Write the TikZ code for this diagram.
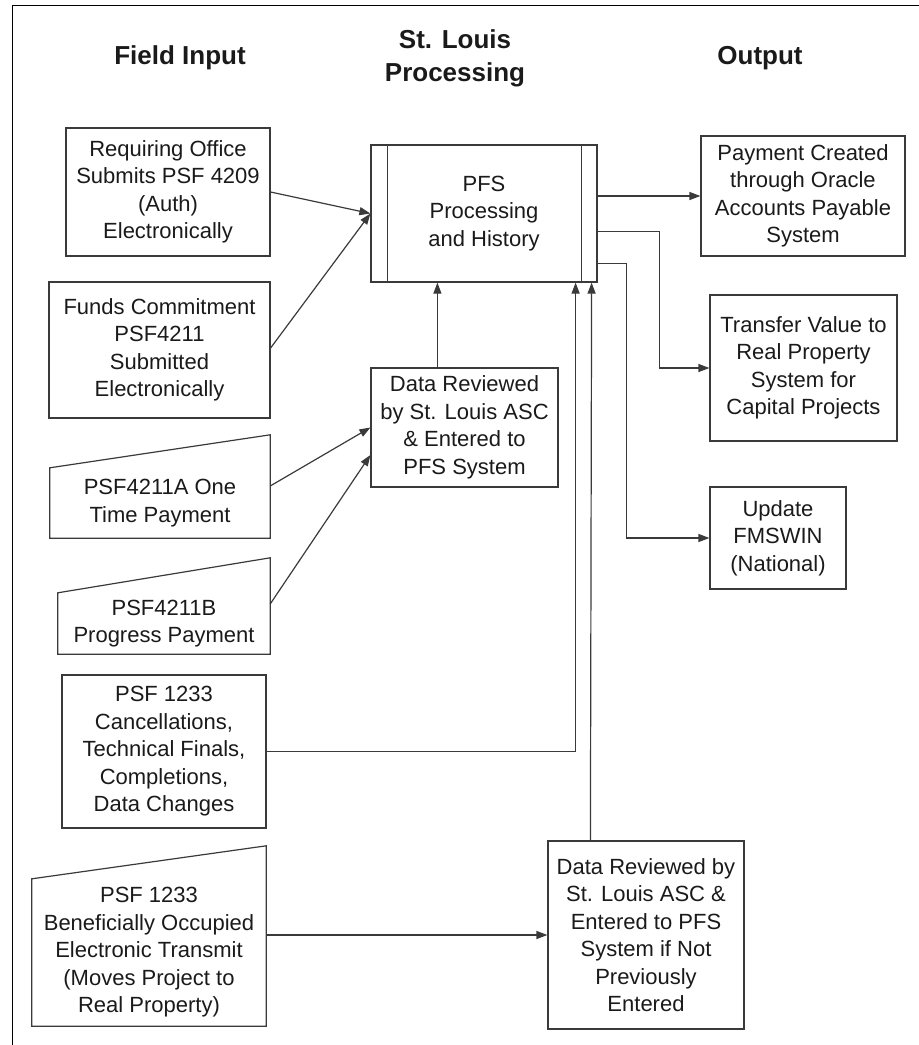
\documentclass[tikz,border=0pt]{standalone}
\usepackage{fontspec}
\setmainfont{Liberation Sans}
\usetikzlibrary{arrows.meta,calc}
\definecolor{linec}{HTML}{3A3A3A}
\definecolor{txtc}{HTML}{1A1A1A}
\begin{document}
\begin{tikzpicture}[x=1pt,y=-1pt,
  box/.style={draw=linec, line width=1.2pt, rectangle, align=center, inner sep=0pt, font=\fontsize{22}{27.5}\selectfont, text=txtc},
  mtext/.style={draw=none, rectangle, align=center, inner sep=0pt, font=\fontsize{22}{27.5}\selectfont, text=txtc},
  manual/.style={draw=linec, line width=1.2pt, line join=miter},
  conn/.style={draw=linec, line width=1.2pt},
  arr/.style={conn, -{Triangle[length=11pt,width=8pt]}},
  hdr/.style={font=\fontsize{26}{33}\selectfont\bfseries, align=center, text=txtc, inner sep=0pt}]
\useasboundingbox (0,0) rectangle (919,1045);
% frame
\draw[line width=1pt, black] (12.5,1045) -- (12.5,5) -- (919,5);
% headers
\node[hdr] (h1) at (180,58) {Field Input};
\node[hdr] (h2) at (455,58.5) {St. Louis\\Processing};
\node[hdr] (h3) at (760,58) {Output};
% boxes
\node[box, minimum width=204, minimum height=128] (req) at (168,192) {Requiring Office\\Submits PSF 4209\\(Auth)\\Electronically};
\node[box, minimum width=221, minimum height=136] (funds) at (159.5,350) {Funds Commitment\\PSF4211\\Submitted\\Electronically};
\node[box, minimum width=226, minimum height=137] (pfs) at (484,213.5) {PFS\\Processing\\and History};
\draw[conn] ($(pfs.north west)+(17,0)$) -- ($(pfs.south west)+(17,0)$);
\draw[conn] ($(pfs.north east)+(-16,0)$) -- ($(pfs.south east)+(-16,0)$);
\node[box, minimum width=204, minimum height=120] (pay) at (803,196) {Payment Created\\through Oracle\\Accounts Payable\\System};
\node[box, minimum width=187, minimum height=146] (transfer) at (803.5,368) {Transfer Value to\\Real Property\\System for\\Capital Projects};
\node[box, minimum width=136, minimum height=102] (update) at (778,538) {Update\\FMSWIN\\(National)};
\node[box, minimum width=187, minimum height=119] (dr1) at (464.5,427.5) {Data Reviewed\\by St. Louis ASC\\\& Entered to\\PFS System};
\node[mtext, minimum width=220, minimum height=70] (A) at (160,503) {PSF4211A One\\Time Payment};
\draw[manual] (A.north west) -- ($(A.north east)+(0,-33)$) -- (A.south east) -- (A.south west) -- cycle;
\node[mtext, minimum width=212, minimum height=61] (B) at (164,623.5) {PSF4211B\\Progress Payment};
\draw[manual] (B.north west) -- ($(B.north east)+(0,-35)$) -- (B.south east) -- (B.south west) -- cycle;
\node[box, minimum width=204, minimum height=153] (c1233) at (164,751.5) {PSF 1233\\Cancellations,\\Technical Finals,\\Completions,\\Data Changes};
\node[mtext, minimum width=234, minimum height=147] (ben) at (149,952.5) {PSF 1233\\Beneficially Occupied\\Electronic Transmit\\(Moves Project to\\Real Property)};
\draw[manual] (ben.north west) -- ($(ben.north east)+(0,-33)$) -- (ben.south east) -- (ben.south west) -- cycle;
\node[box, minimum width=196, minimum height=188] (dr2) at (646,935) {Data Reviewed by\\St. Louis ASC \&\\Entered to PFS\\System if Not\\Previously\\Entered};
% connectors
\draw[arr] (req.east) -- (pfs.west);
\draw[arr] ([yshift=2pt]funds.east) -- (pfs.west);
\draw[arr] (pfs.east |- pay.west) -- (pay.west);
\coordinate (t1) at ($(pfs.north east)+(0,87)$);
\draw[arr] (t1) -- ++(62,0) |- (transfer.west);
\coordinate (u1) at ($(pfs.north east)+(0,119)$);
\draw[arr] (u1) -- ++(29,0) |- (update.west);
\draw[arr] ($(dr1.north west)+(67,0)$) -- ($(pfs.south west)+(67,0)$);
\draw[arr] ([yshift=17pt]A.east) -- (dr1.west);
\draw[arr] ([yshift=19.5pt]B.east) -- ($(dr1.west)+(0,27.5)$);
\draw[arr] (c1233.east) -| ($(pfs.south east)+(-22,0)$);
\draw[arr] (ben.east |- dr2.west) -- (dr2.west);
\draw[arr] ($(dr2.north west)+(43,0)$) -- ($(pfs.south east)+(-6,0)$);
\end{tikzpicture}
\end{document}
